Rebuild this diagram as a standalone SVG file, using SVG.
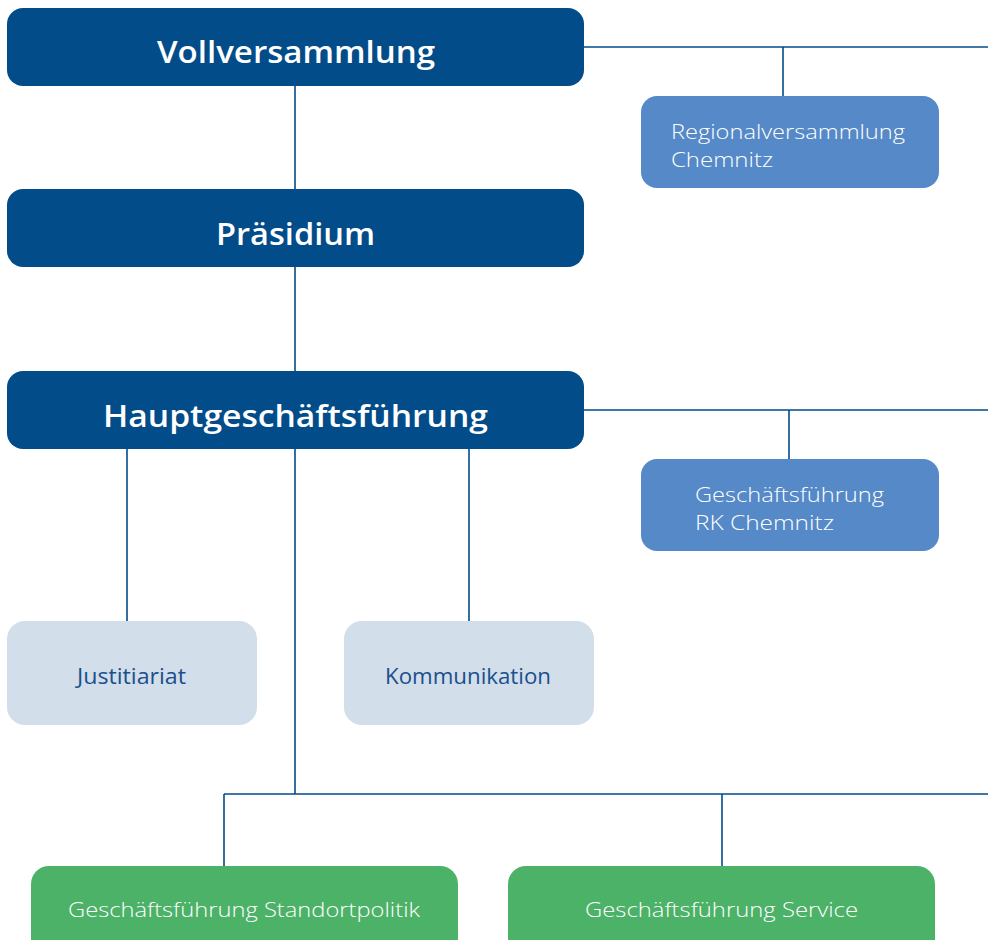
<svg xmlns="http://www.w3.org/2000/svg" width="988" height="940" viewBox="0 0 988 940">
<style>
.dark{fill:#034C8A}
.mid{fill:#5689C8}
.light{fill:#D2DEEA}
.green{fill:#4CB268}
.h{font-family:"Open Sans",Lato,sans-serif;font-weight:600;font-size:31px;fill:#fff;text-anchor:middle}
.w{font-family:"Open Sans",Lato,sans-serif;font-weight:300;font-size:21px;fill:#fff}
.b{font-family:"Open Sans",Lato,sans-serif;font-weight:400;font-size:21px;fill:#1B4F8D;text-anchor:middle}
.c{stroke:#034C8A;stroke-width:1.6;fill:none}
</style>
<rect width="988" height="940" fill="#fff"/>
<g id="connectors" class="c">
<path d="M295 86V189M295 266V371M295 448V794"/>
<path d="M583 47H988M783 47V96"/>
<path d="M583 410H988M789 410V459"/>
<path d="M127 448V621M469 448V621"/>
<path d="M224 794H988M224 794V866M722 794V866"/>
</g>
<g id="vollversammlung"><rect class="dark" x="7" y="8" width="577" height="78" rx="16"/><text class="h" x="296" y="63" textLength="278" lengthAdjust="spacingAndGlyphs">Vollversammlung</text></g>
<g id="praesidium"><rect class="dark" x="7" y="189" width="577" height="78" rx="16"/><text class="h" x="295.5" y="245" textLength="159" lengthAdjust="spacingAndGlyphs">Präsidium</text></g>
<g id="hgf"><rect class="dark" x="7" y="371" width="577" height="78" rx="16"/><text class="h" x="295.5" y="427" textLength="385" lengthAdjust="spacingAndGlyphs">Hauptgeschäftsführung</text></g>
<g id="regionalversammlung"><rect class="mid" x="641" y="96" width="298" height="92" rx="16"/><text class="w" x="671" y="139" textLength="234" lengthAdjust="spacingAndGlyphs">Regionalversammlung</text><text class="w" x="671" y="167" textLength="102" lengthAdjust="spacingAndGlyphs">Chemnitz</text></g>
<g id="gf-rk"><rect class="mid" x="641" y="459" width="298" height="92" rx="16"/><text class="w" x="695" y="502" textLength="189" lengthAdjust="spacingAndGlyphs">Geschäftsführung</text><text class="w" x="695" y="530" textLength="139" lengthAdjust="spacingAndGlyphs">RK Chemnitz</text></g>
<g id="justitiariat"><rect class="light" x="7" y="621" width="250" height="104" rx="18"/><text class="b" x="131.5" y="684" textLength="109" lengthAdjust="spacingAndGlyphs">Justitiariat</text></g>
<g id="kommunikation"><rect class="light" x="344" y="621" width="250" height="104" rx="18"/><text class="b" x="468" y="684" textLength="166" lengthAdjust="spacingAndGlyphs">Kommunikation</text></g>
<g id="gf-standort"><rect class="green" x="31" y="866" width="427" height="100" rx="18"/><text class="w" x="244" y="917" text-anchor="middle" textLength="352" lengthAdjust="spacingAndGlyphs">Geschäftsführung Standortpolitik</text></g>
<g id="gf-service"><rect class="green" x="508" y="866" width="427" height="100" rx="18"/><text class="w" x="721.5" y="917" text-anchor="middle" textLength="273" lengthAdjust="spacingAndGlyphs">Geschäftsführung Service</text></g>
</svg>
